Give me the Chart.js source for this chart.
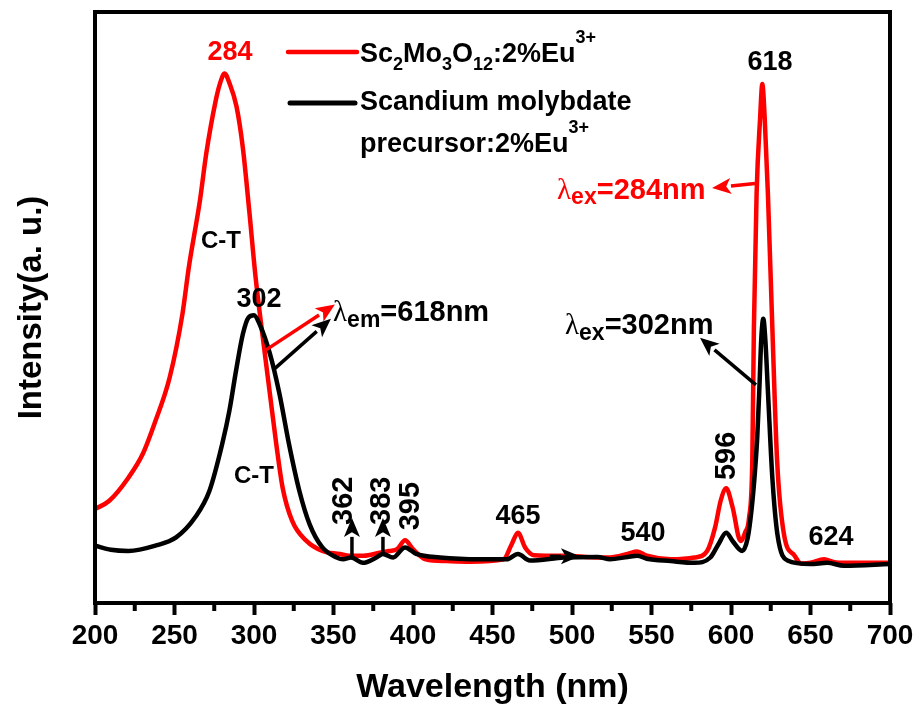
<!DOCTYPE html>
<html><head><meta charset="utf-8">
<script src="https://cdn.jsdelivr.net/npm/chart.js@4.4.0/dist/chart.umd.min.js"></script>
<style>html,body{margin:0;padding:0;background:#fff;}</style>
</head><body>
<canvas id="c" width="919" height="710"></canvas>
<script>
// ---------------- data ----------------
const wavelengthRed = [200,209,221,230,238,247,255,259,266,270,276,278.5,281.5,284.5,289,293,297,301,305.5,310,314,318,324,333,343,354,360,369,379,385,390,395,400,408,421,436,457,462,466,470.5,476,495,516,524,535,541,547,562,577,585,590,593.5,597,601,606,609,611.3,613.4,614.4,616.1,618.3,619.7,621.2,623.2,626,629,633.4,640,644,650,658.5,665,671,685,700];
const intensityRed  = [15.9,17.3,21.2,25.2,30.8,38.2,48.9,56.8,68.1,76.1,85.1,87.8,89.6,88.0,84.0,77.0,66.4,55.1,45.0,35.4,26.9,19.5,13.9,10.5,8.8,8.3,8.0,8.0,8.5,8.8,9.1,10.6,9.1,7.4,7.1,7.0,7.4,9.9,11.9,9.4,8.1,8.0,7.7,7.7,8.3,8.7,8.0,7.4,7.7,8.8,12.8,17.3,19.4,16.2,10.5,12.0,14.3,24.1,46.6,69.3,82.0,87.8,82.0,69.3,46.6,24.1,11.5,8.0,6.7,6.8,7.4,6.9,6.8,6.8,6.8];
const wavelengthBlack = [200,210,221,238,251,263,272,280,284.5,288.7,293,296.5,300,303.5,310,316,322,328.5,335,343,352,356,361,368.5,377,381,387.5,395,402,417,442,459,466,473.5,495,516,524,535,541,547,562,577,587,592,597,601,607,610.5,613,615,616.5,617.8,619,620.3,621.6,623.3,626,629.2,635.5,650,660.5,671,700];
const intensityBlack  = [9.7,9.0,8.8,9.7,11.1,14.5,19.0,26.9,32.5,39.3,45.5,48.3,48.7,47.2,42.2,35.4,26.9,19.0,13.3,9.4,7.7,7.4,7.7,6.8,7.7,8.3,7.7,9.4,8.3,7.7,7.4,7.4,8.3,7.2,7.7,7.8,7.4,7.8,8.0,7.5,7.1,6.8,7.7,9.9,11.9,10.5,8.8,11.0,16.0,22.0,28.0,36.0,44.5,48.1,44.5,35.4,21.2,11.6,7.2,6.6,6.8,6.3,6.6];
const xMin = 200, xMax = 700, xStep = 25, xLabelStep = 50;
const yMin = 0, yMax = 100;
const seriesRed = 'Sc2Mo3O12:2%Eu3+';
const seriesBlack = 'Scandium molybdate precursor:2%Eu3+';
const xTitle = 'Wavelength (nm)';
const yTitle = 'Intensity(a. u.)';

// ---------------- annotation layout ----------------
const FAM = '"Liberation Sans", Arial, sans-serif';
const plainTags = [
  {text:'284', x:284.9, y:93.1, color:'#ff0000', size:27},
  {text:'618', x:624.5, y:91.5, color:'#000', size:27},
  {text:'302', x:303.1, y:51.4, color:'#000', size:27},
  {text:'465', x:466.0, y:14.7, color:'#000', size:27},
  {text:'540', x:544.7, y:11.7, color:'#000', size:27},
  {text:'624', x:662.9, y:11.0, color:'#000', size:27},
  {text:'C-T', x:279.2, y:61.2, color:'#000', size:24},
  {text:'C-T', x:300.0, y:21.5, color:'#000', size:24}
];
const rotatedTags = [
  {text:'362', x:356.6, y:17.3},
  {text:'383', x:380.5, y:17.3},
  {text:'395', x:398.7, y:16.4},
  {text:'596', x:597.5, y:24.9}
];
const lambdaTags = [
  {sub:'em', rest:'=618nm', x:349.7, y:49.5, color:'#000'},
  {sub:'ex', rest:'=284nm', x:490.6, y:70.2, color:'#ff0000'},
  {sub:'ex', rest:'=302nm', x:495.6, y:47.3, color:'#000'}
];
const arrows = [
  {x1:306.9, y1:42.7, x2:350.9, y2:50.5, color:'#ff0000'},
  {x1:313.2, y1:39.7, x2:348.4, y2:48.1, color:'#000'},
  {x1:361.6, y1:7.6,  x2:361.6, y2:14.4, color:'#000'},
  {x1:381.1, y1:8.3,  x2:381.1, y2:14.4, color:'#000'},
  {x1:615.1, y1:71.0, x2:588.1, y2:70.2, color:'#ff0000'},
  {x1:615.7, y1:36.9, x2:580.5, y2:44.9, color:'#000'},
  {x1:486.0, y1:7.9,  x2:505.0, y2:7.9,  color:'#000'}
];

function drawArrow(ctx, x1, y1, x2, y2, color) {
  const ang = Math.atan2(y2 - y1, x2 - x1);
  const hl = 19, hw = 8;
  const bx = x2 - hl * Math.cos(ang), by = y2 - hl * Math.sin(ang);
  ctx.save();
  ctx.strokeStyle = color; ctx.fillStyle = color; ctx.lineWidth = 3.5;
  ctx.beginPath(); ctx.moveTo(x1, y1); ctx.lineTo(bx, by); ctx.stroke();
  ctx.beginPath();
  ctx.moveTo(x2, y2);
  ctx.lineTo(bx + hw * Math.sin(ang), by - hw * Math.cos(ang));
  ctx.lineTo(x2 - hl * 0.75 * Math.cos(ang), y2 - hl * 0.75 * Math.sin(ang));
  ctx.lineTo(bx - hw * Math.sin(ang), by + hw * Math.cos(ang));
  ctx.closePath(); ctx.fill();
  ctx.restore();
}

// parts: [{t, font, dy}] drawn on an alphabetic baseline
function drawRich(ctx, parts, x, baseline, color, align) {
  let w = 0;
  parts.forEach(p => { ctx.font = p.font; p.w = ctx.measureText(p.t).width; w += p.w; });
  let cx = align === 'center' ? x - w / 2 : x;
  ctx.fillStyle = color; ctx.textBaseline = 'alphabetic'; ctx.textAlign = 'left';
  parts.forEach(p => { ctx.font = p.font; ctx.fillText(p.t, cx, baseline + (p.dy || 0)); cx += p.w; });
}

function formulaParts(str, size) {
  const parts = [];
  const main = 'bold ' + size + 'px ' + FAM;
  const small = 'bold ' + Math.round(size * 0.68) + 'px ' + FAM;
  const re = /(Eu)(\d\+)|([A-Za-z])(\d+)|([^A-Za-z]+|[A-Za-z])/g;
  let m;
  while ((m = re.exec(str)) !== null) {
    if (m[1]) { parts.push({t:m[1], font:main}); parts.push({t:m[2], font:small, dy:-size * 0.7}); }
    else if (m[3]) { parts.push({t:m[3], font:main}); parts.push({t:m[4], font:small, dy:size * 0.31}); }
    else parts.push({t:m[5], font:main});
  }
  return parts;
}

const annotPlugin = {
  id: 'annot',
  afterDatasetsDraw(chart) {
    const ctx = chart.ctx, a = chart.chartArea;
    const xs = chart.scales.x, ys = chart.scales.y;
    const px = v => xs.getPixelForValue(v), py = v => ys.getPixelForValue(v);
    ctx.save();
    // frame
    ctx.strokeStyle = '#000'; ctx.lineWidth = 4;
    ctx.strokeRect(a.left, a.top, a.right - a.left, a.bottom - a.top);
    // minor ticks
    for (let v = xMin + xStep; v < xMax; v += xLabelStep) {
      const x = px(v);
      ctx.beginPath(); ctx.moveTo(x, a.bottom); ctx.lineTo(x, a.bottom + 8); ctx.stroke();
    }
    // arrows
    arrows.forEach(r => drawArrow(ctx, px(r.x1), py(r.y1), px(r.x2), py(r.y2), r.color));
    // plain tags
    ctx.textAlign = 'center'; ctx.textBaseline = 'middle';
    plainTags.forEach(t => {
      ctx.font = 'bold ' + t.size + 'px ' + FAM; ctx.fillStyle = t.color;
      ctx.fillText(t.text, px(t.x), py(t.y));
    });
    // rotated tags
    rotatedTags.forEach(t => {
      ctx.save();
      ctx.translate(px(t.x), py(t.y)); ctx.rotate(-Math.PI / 2);
      ctx.font = 'bold 29px ' + FAM; ctx.fillStyle = '#000';
      ctx.textAlign = 'center'; ctx.textBaseline = 'middle';
      ctx.fillText(t.text, 0, 0);
      ctx.restore();
    });
    // lambda tags
    lambdaTags.forEach(t => {
      const s = 29;
      drawRich(ctx, [
        {t:'λ', font:'normal ' + s + 'px "Liberation Serif", serif'},
        {t:t.sub, font:'bold ' + Math.round(s * 0.78) + 'px ' + FAM, dy:s * 0.2},
        {t:t.rest, font:'bold ' + s + 'px ' + FAM}
      ], px(t.x), py(t.y) + s * 0.36, t.color, 'left');
    });
    // legend
    const ls = 27;
    const lx0 = a.left + 193, lx1 = a.left + 262, tx = a.left + 265;
    ctx.lineCap = 'round';
    ctx.strokeStyle = '#ff0000'; ctx.lineWidth = 4.5;
    ctx.beginPath(); ctx.moveTo(lx0, a.top + 40); ctx.lineTo(lx1, a.top + 40); ctx.stroke();
    ctx.strokeStyle = '#000'; ctx.lineWidth = 5;
    ctx.beginPath(); ctx.moveTo(lx0 + 2, a.top + 91); ctx.lineTo(lx1 - 2, a.top + 91); ctx.stroke();
    drawRich(ctx, formulaParts(seriesRed, ls), tx, a.top + 50, '#000', 'left');
    const words = seriesBlack.split(' ');
    drawRich(ctx, formulaParts(words.slice(0, 2).join(' '), ls), tx, a.top + 98, '#000', 'left');
    drawRich(ctx, formulaParts(words.slice(2).join(' '), ls), tx, a.top + 140, '#000', 'left');
    ctx.restore();
  }
};

new Chart(document.getElementById('c').getContext('2d'), {
  type: 'line',
  data: {
    datasets: [
      {label: seriesRed, data: wavelengthRed.map((x, i) => ({x, y: intensityRed[i]})),
       borderColor: '#ff0000', borderWidth: 4.5, pointRadius: 0, fill: false,
       cubicInterpolationMode: 'monotone', order: 1},
      {label: seriesBlack, data: wavelengthBlack.map((x, i) => ({x, y: intensityBlack[i]})),
       borderColor: '#000000', borderWidth: 4.5, pointRadius: 0, fill: false,
       cubicInterpolationMode: 'monotone', order: 0}
    ]
  },
  options: {
    responsive: false, animation: false, devicePixelRatio: 1,
    layout: {padding: {top: 12, right: 29, left: 0, bottom: 2}},
    plugins: {legend: {display: false}, tooltip: {enabled: false}},
    scales: {
      x: {
        type: 'linear', min: xMin, max: xMax,
        afterFit(s) { s.height = 105; },
        ticks: {stepSize: xStep, autoSkip: false, maxRotation: 0, color: '#000', padding: 4,
          font: {family: FAM, size: 28, weight: 'bold'},
          callback: v => (v % xLabelStep === 0 ? String(v) : '')},
        grid: {drawOnChartArea: false, drawTicks: true, tickLength: 12, tickWidth: 4,
          tickColor: c => (c.tick && c.tick.value % xLabelStep === 0 ? '#000' : 'rgba(0,0,0,0)')},
        border: {display: false},
        title: {display: true, text: xTitle, color: '#000', padding: {top: 0, bottom: 0},
          font: {family: FAM, size: 34, weight: 'bold'}}
      },
      y: {
        min: yMin, max: yMax,
        afterFit(s) { s.width = 95; },
        ticks: {display: false},
        grid: {display: false, drawTicks: false},
        border: {display: false},
        title: {display: true, text: yTitle, color: '#000', padding: {top: 12, bottom: 0},
          font: {family: FAM, size: 33, weight: 'bold'}}
      }
    }
  },
  plugins: [annotPlugin]
});
</script>
</body></html>
